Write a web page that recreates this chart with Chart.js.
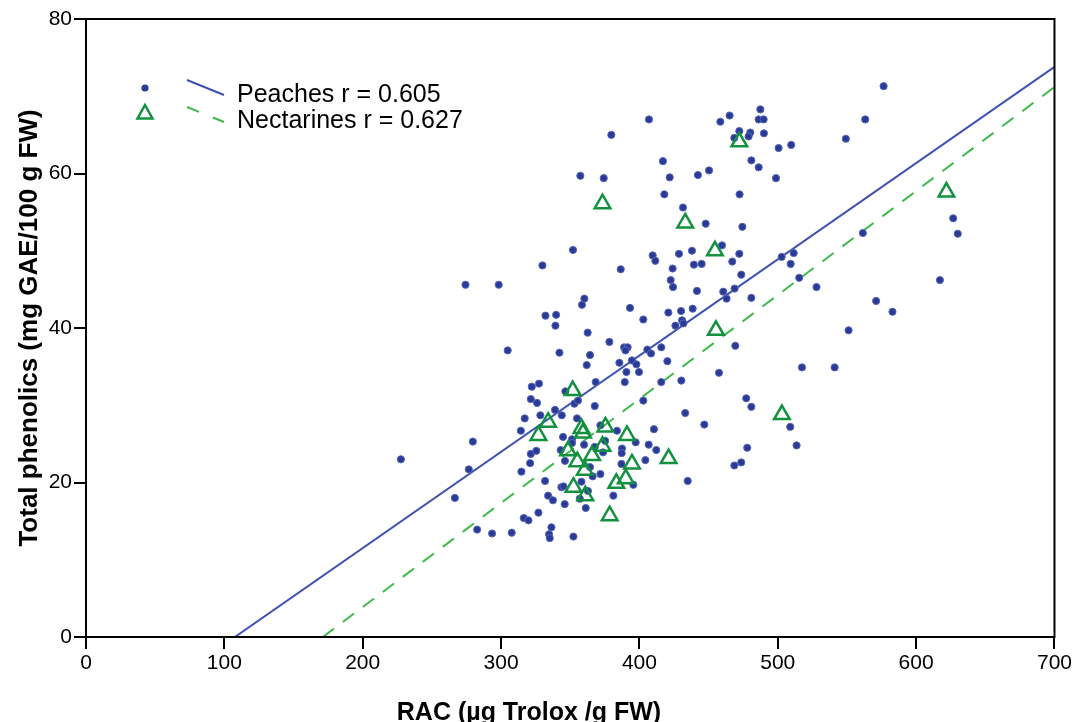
<!DOCTYPE html>
<html>
<head>
<meta charset="utf-8">
<script src="https://cdn.jsdelivr.net/npm/chart.js@4/dist/chart.umd.min.js"></script>
<style>
  body { margin:0; background:#fff; }
  #wrap { width:1074px; height:722px; }
</style>
</head>
<body>
<div id="wrap"><canvas id="myChart" width="1074" height="722"></canvas></div>
<script>
// Peaches: RAC (x) vs total phenolics (y)
const peachX = [274.3,279.6,227.6,276.7,266.6,282.7,357.3,352.0,329.9,298.3,
  360.2,358.5,332.1,339.8,339.3,362.6,304.8,342.2,364.3,361.9,
  322.2,327.4,368.4,321.5,326.0,346.5,353.0,355.6,367.7,339.0,
  317.1,328.4,343.9,354.9,314.3,321.5,325.5,321.0,314.7,331.8,
  334.0,337.5,327.0,316.4,319.8,293.5,307.7,336.4,334.7,335.2,
  352.3,346.0,343.6,345.1,358.1,362.8,361.2,356.9,344.8,351.3,
  351.3,343.1,346.2,360.0,364.3,366.2,371.8,371.8,367.7,373.7,
  387.0,395.6,381.2,434.9,404.3,576.5,406.9,379.7,458.5,465.2,
  487.4,486.2,489.8,472.2,480.1,478.9,490.0,468.6,500.6,509.7,
  549.2,563.2,417.0,421.9,442.3,450.3,480.9,486.2,498.7,374.2,
  418.0,472.4,431.5,447.9,474.4,626.8,630.1,561.5,459.7,409.6,
  411.5,428.6,438.0,439.4,445.0,467.1,472.2,502.8,511.5,509.3,
  515.5,528.0,617.2,424.0,422.6,424.3,473.6,386.5,441.6,460.6,
  468.8,463.0,480.9,571.1,582.9,393.2,402.8,420.9,430.1,438.5,
  430.8,431.8,426.0,551.2,378.3,388.9,391.5,389.9,405.7,408.4,
  415.8,420.2,469.3,385.5,394.6,397.8,390.6,399.7,389.4,415.8,
  430.3,457.5,517.5,541.1,402.8,477.2,480.9,433.1,509.0,513.6,
  446.9,410.5,383.8,397.3,406.7,412.2,387.4,387.2,375.2,477.9,
  468.6,473.6];
const peachY = [45.6,25.3,23.0,21.7,18.0,13.9,59.7,50.1,48.1,45.6,
  43.8,43.0,41.6,41.7,40.3,39.4,37.1,36.8,36.5,35.2,
  32.4,32.8,33.0,30.8,30.3,31.8,30.2,30.6,29.9,29.4,
  28.3,28.7,28.7,28.3,26.7,23.7,24.1,22.5,21.4,20.2,
  18.3,17.7,16.1,15.4,15.1,13.4,13.5,14.2,13.3,12.8,
  13.0,17.2,19.4,19.5,20.1,18.9,16.7,17.9,25.9,25.6,
  25.1,24.2,22.8,24.9,22.0,20.8,21.1,27.4,24.6,23.9,
  22.4,19.7,18.3,20.2,22.9,71.3,67.0,65.0,66.7,67.5,
  68.3,67.0,67.0,65.5,65.3,64.8,65.2,64.6,63.3,63.7,
  64.5,67.0,61.6,59.5,59.8,60.4,61.7,60.8,59.4,59.4,
  57.3,57.3,55.6,53.5,53.1,54.2,52.2,52.3,50.7,49.4,
  48.7,49.6,50.0,48.2,48.3,48.6,49.6,49.2,49.7,48.3,
  46.5,45.3,46.2,47.7,46.2,45.3,46.9,47.6,44.8,44.7,
  45.1,43.8,43.9,43.5,42.1,42.6,41.1,42.0,42.2,42.5,
  41.0,40.6,40.3,39.7,38.2,37.5,37.5,37.1,37.2,36.7,
  37.5,35.7,37.7,35.5,35.8,35.3,34.3,34.3,33.0,33.0,
  33.2,34.2,34.9,34.9,30.6,30.9,29.8,29.0,27.2,24.8,
  27.5,26.9,26.7,25.2,24.9,24.2,24.4,23.8,25.4,24.5,
  22.2,22.6];

// Nectarines
const nectX = [373.3,472.2,433.1,621.9,454.6,455.3,503.0,375.4,391.0,373.3,
  421.1,394.6,383.3,390.1,378.5,351.8,334.0,327.0,352.3,360.9,
  358.1,359.2,348.4,355.1,365.8,360.5];
const nectY = [56.1,64.1,53.6,57.6,50.0,39.7,28.8,27.2,26.1,24.7,
  23.1,22.4,19.9,20.5,15.7,31.9,27.8,26.1,19.4,18.3,
  27.0,26.4,24.1,22.7,23.5,21.6];

// fit lines (end points)
const peachFitX = [107.6, 700];
const peachFitY = [0, 73.8];
const nectFitX = [171.2, 700];
const nectFitY = [0, 71.2];

const legendLabels = ['Peaches r = 0.605', 'Nectarines r = 0.627'];
const xTitle = 'RAC (µg Trolox /g FW)';
const yTitle = 'Total phenolics (mg GAE/100 g FW)';

const BLUE_DOT = '#2b3a94';
const BLUE_LINE = '#3d52b0';
const GREEN_TRI = '#12913f';
const GREEN_LINE = '#3dba4a';

function toPoints(xs, ys){
  let pts = [];
  for(let i=0; i<xs.length; i++){ pts.push({x: xs[i], y: ys[i]}); }
  return pts;
}

// frame box, x title (sits left of centre in the original) and the legend
const frameAndLegend = {
  id: 'frameAndLegend',
  afterDraw(chart){
    const ctx = chart.ctx;
    const a = chart.chartArea;
    ctx.save();
    ctx.strokeStyle = '#000';
    ctx.lineWidth = 2;
    ctx.strokeRect(a.left, a.top, a.right - a.left, a.bottom - a.top);

    ctx.fillStyle = '#000';
    ctx.font = "bold 25px 'Liberation Sans', Arial, sans-serif";
    ctx.textAlign = 'center';
    ctx.textBaseline = 'alphabetic';
    ctx.fillText(xTitle, 529, 720);

    // markers
    ctx.fillStyle = BLUE_DOT;
    ctx.beginPath(); ctx.arc(145, 88, 3.6, 0, Math.PI*2); ctx.fill();
    ctx.strokeStyle = GREEN_TRI; ctx.lineWidth = 2.5;
    ctx.beginPath();
    ctx.moveTo(145, 105); ctx.lineTo(152.5, 118.5); ctx.lineTo(137.5, 118.5); ctx.closePath();
    ctx.stroke();

    // line samples
    ctx.lineWidth = 2;
    ctx.strokeStyle = BLUE_LINE;
    ctx.beginPath(); ctx.moveTo(187, 80); ctx.lineTo(224, 95); ctx.stroke();
    ctx.strokeStyle = GREEN_LINE;
    ctx.setLineDash([13, 15]);
    ctx.beginPath(); ctx.moveTo(187, 107); ctx.lineTo(224, 122); ctx.stroke();
    ctx.setLineDash([]);

    ctx.fillStyle = '#000';
    ctx.font = "25px 'Liberation Sans', Arial, sans-serif";
    ctx.textAlign = 'left';
    ctx.textBaseline = 'middle';
    ctx.fillText(legendLabels[0], 237, 95);
    ctx.fillText(legendLabels[1], 237, 121);
    ctx.restore();
  }
};

Chart.defaults.font.family = "'Liberation Sans', Arial, sans-serif";
Chart.defaults.color = '#000';

const config = {
  type: 'scatter',
  data: {
    datasets: [
      {
        label: legendLabels[1],
        data: toPoints(nectX, nectY),
        pointStyle: 'triangle',
        pointRadius: 9,
        borderColor: GREEN_TRI,
        backgroundColor: 'rgba(255,255,255,0)',
        borderWidth: 2.5,
        order: 1
      },
      {
        label: legendLabels[0],
        data: toPoints(peachX, peachY),
        pointStyle: 'circle',
        pointRadius: 3.6,
        backgroundColor: BLUE_DOT,
        borderColor: '#5667ba',
        borderWidth: 1,
        order: 2
      },
      {
        type: 'line',
        data: toPoints(peachFitX, peachFitY),
        borderColor: BLUE_LINE,
        borderWidth: 2,
        pointRadius: 0,
        fill: false,
        order: 3
      },
      {
        type: 'line',
        data: toPoints(nectFitX, nectFitY),
        borderColor: GREEN_LINE,
        borderWidth: 2,
        borderDash: [14, 11],
        pointRadius: 0,
        fill: false,
        order: 3
      }
    ]
  },
  options: {
    responsive: false,
    animation: false,
    events: [],
    layout: { padding: { top: 19, right: 19, left: 0, bottom: 0 } },
    plugins: {
      legend: { display: false },
      tooltip: { enabled: false }
    },
    scales: {
      x: {
        type: 'linear',
        min: 0, max: 700,
        ticks: { stepSize: 100, padding: 2, font: { size: 21 } },
        grid: { drawOnChartArea: false, tickLength: 12, color: '#000', lineWidth: 2 },
        border: { color: '#000', width: 2 },
        title: { display: false },
        afterFit(scale){ scale.height = 85; }
      },
      y: {
        type: 'linear',
        min: 0, max: 80,
        ticks: { stepSize: 20, padding: 2, font: { size: 21 } },
        grid: { drawOnChartArea: false, tickLength: 12, color: '#000', lineWidth: 2 },
        border: { color: '#000', width: 2 },
        title: {
          display: true,
          text: yTitle,
          font: { size: 26, weight: 'bold', lineHeight: 1.2 },
          padding: { top: 14, bottom: 0 }
        },
        afterFit(scale){ scale.width = 86; }
      }
    }
  },
  plugins: [frameAndLegend]
};

const myChart = new Chart(document.getElementById('myChart'), config);
</script>
</body>
</html>
